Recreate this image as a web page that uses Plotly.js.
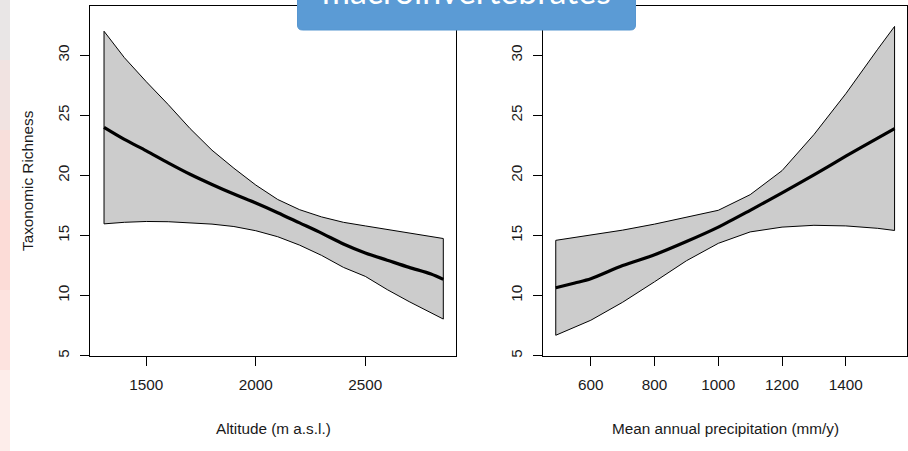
<!DOCTYPE html>
<html>
<head>
<meta charset="utf-8">
<script src="https://cdn.plot.ly/plotly-3.0.1.min.js"></script>
<style>html,body{margin:0;padding:0;background:#fff;}#chart{width:908px;height:451px;}</style>
</head>
<body>
<div id="chart"></div>
<script>
// ---- data ----
const altX     = [1307, 1400, 1500, 1600, 1700, 1800, 1900, 2000, 2100, 2200, 2300, 2400, 2500, 2600, 2700, 2800, 2856];
const altFit   = [24.0, 23.0, 22.05, 21.05, 20.1, 19.25, 18.45, 17.7, 16.9, 16.05, 15.2, 14.3, 13.55, 12.95, 12.35, 11.8, 11.35];
const altUpper = [32.0, 29.8, 27.8, 25.9, 23.9, 22.1, 20.6, 19.2, 18.0, 17.15, 16.55, 16.1, 15.8, 15.5, 15.25, 14.95, 14.75];
const altLower = [15.97, 16.1, 16.17, 16.15, 16.08, 15.95, 15.75, 15.4, 14.9, 14.2, 13.35, 12.35, 11.6, 10.5, 9.5, 8.55, 8.05];

const precX     = [490, 550, 600, 700, 800, 900, 1000, 1100, 1200, 1300, 1400, 1500, 1553];
const precFit   = [10.65, 11.05, 11.4, 12.5, 13.4, 14.5, 15.7, 17.1, 18.55, 20.05, 21.6, 23.1, 23.9];
const precUpper = [14.6, 14.85, 15.0, 15.45, 15.95, 16.5, 17.1, 18.4, 20.4, 23.4, 26.8, 30.5, 32.4];
const precLower = [6.7, 7.4, 7.95, 9.45, 11.15, 12.9, 14.35, 15.3, 15.7, 15.85, 15.8, 15.6, 15.42];

const altTicks  = [1500, 2000, 2500];
const precTicks = [600, 800, 1000, 1200, 1400];
const yTicks    = [5, 10, 15, 20, 25, 30];

const titleText = "macroinvertebrates";
const yTitle = "Taxonomic Richness";
const xTitleLeft = "Altitude (m a.s.l.)";
const xTitleRight = "Mean annual precipitation (mm/y)";

// ---- helpers ----
const W = 908, H = 451;
const px = x => x / W;
const py = y => (H - y) / H;
const font = "Liberation Sans, Arial, sans-serif";
const txt = "#1a1a1a";

function band(xs, up, lo, xa, ya) {
  return {
    x: xs.concat(xs.slice().reverse(), [xs[0]]),
    y: up.concat(lo.slice().reverse(), [up[0]]),
    xaxis: xa, yaxis: ya, mode: "lines", fill: "toself",
    fillcolor: "#cccccc", line: {color: "#000", width: 1},
    hoverinfo: "skip", showlegend: false
  };
}
function fit(xs, ys, xa, ya) {
  return {x: xs, y: ys, xaxis: xa, yaxis: ya, mode: "lines",
    line: {color: "#000", width: 3.2, shape: "spline", smoothing: 0.8}, showlegend: false};
}

const traces = [
  band(altX, altUpper, altLower, "x", "y"),
  fit(altX, altFit, "x", "y"),
  band(precX, precUpper, precLower, "x2", "y2"),
  fit(precX, precFit, "x2", "y2")
];

const xBase = {
  showline: true, mirror: true, linecolor: "#000", linewidth: 1,
  ticks: "outside", ticklen: 9, tickwidth: 1, tickcolor: "#000",
  showgrid: false, zeroline: false, tickmode: "array",
  tickfont: {family: font, size: 15.3, color: txt}, ticklabelstandoff: 6
};
const yBase = Object.assign({}, xBase, {
  range: [5, 34.1], tickvals: yTicks, ticktext: yTicks.map(String),
  tickangle: -90, ticklabelstandoff: 5, domain: [py(355.7), py(6)]
});

// slide background strip on the left edge
const strip = [
  [0, 60, "#e9e6e6"], [60, 130, "#f1e3e1"], [130, 200, "#f8dfdb"],
  [200, 290, "#fcdcd7"], [290, 370, "#fde3df"], [370, 451, "#fdedea"]
];
const shapes = strip.map(s => ({
  type: "rect", xref: "paper", yref: "paper", layer: "below",
  x0: 0, x1: px(10), y0: py(s[1]), y1: py(s[0]),
  fillcolor: s[2], line: {width: 0}
}));

// title box (rounded bottom corners, top cut off)
const bx0 = 297.5, bx1 = 635.5, byT = -6, byB = 30, r = 5;
const p = (x, y) => px(x) + "," + py(y);
shapes.push({
  type: "path", xref: "paper", yref: "paper", layer: "above",
  path: "M" + p(bx0, byT) + " L" + p(bx0, byB - r) + " Q" + p(bx0, byB) + " " + p(bx0 + r, byB) +
        " L" + p(bx1 - r, byB) + " Q" + p(bx1, byB) + " " + p(bx1, byB - r) +
        " L" + p(bx1, byT) + " Z",
  fillcolor: "#5b9bd5", line: {color: "#5796d0", width: 1}
});

const layout = {
  width: W, height: H,
  margin: {l: 0, r: 0, t: 0, b: 0},
  paper_bgcolor: "#fff", plot_bgcolor: "#fff",
  showlegend: false,
  xaxis: Object.assign({}, xBase, {domain: [px(90), px(456)], range: [1243, 2914],
    tickvals: altTicks, ticktext: altTicks.map(String), anchor: "y"}),
  yaxis: Object.assign({}, yBase, {anchor: "x"}),
  xaxis2: Object.assign({}, xBase, {domain: [px(543), px(907)], range: [450, 1592],
    tickvals: precTicks, ticktext: precTicks.map(String), anchor: "y2"}),
  yaxis2: Object.assign({}, yBase, {anchor: "x2"}),
  shapes: shapes,
  annotations: [
    {text: yTitle, xref: "paper", yref: "paper", x: px(27), y: py(181), textangle: -90,
     showarrow: false, font: {family: font, size: 15.3, color: txt}, xanchor: "center", yanchor: "middle"},
    {text: xTitleLeft, xref: "paper", yref: "paper", x: px(273), y: py(428.3),
     showarrow: false, font: {family: font, size: 15.3, color: txt}, xanchor: "center", yanchor: "middle"},
    {text: xTitleRight, xref: "paper", yref: "paper", x: px(725), y: py(428.3),
     showarrow: false, font: {family: font, size: 15.3, color: txt}, xanchor: "center", yanchor: "middle"},
    {text: titleText, xref: "paper", yref: "paper", x: px(466), y: py(13), xanchor: "center", yanchor: "bottom",
     showarrow: false, font: {family: "Lato, Open Sans, sans-serif", size: 34, color: "#ffffff"}}
  ]
};

Plotly.newPlot("chart", traces, layout, {staticPlot: true, displayModeBar: false});
</script>
</body>
</html>
